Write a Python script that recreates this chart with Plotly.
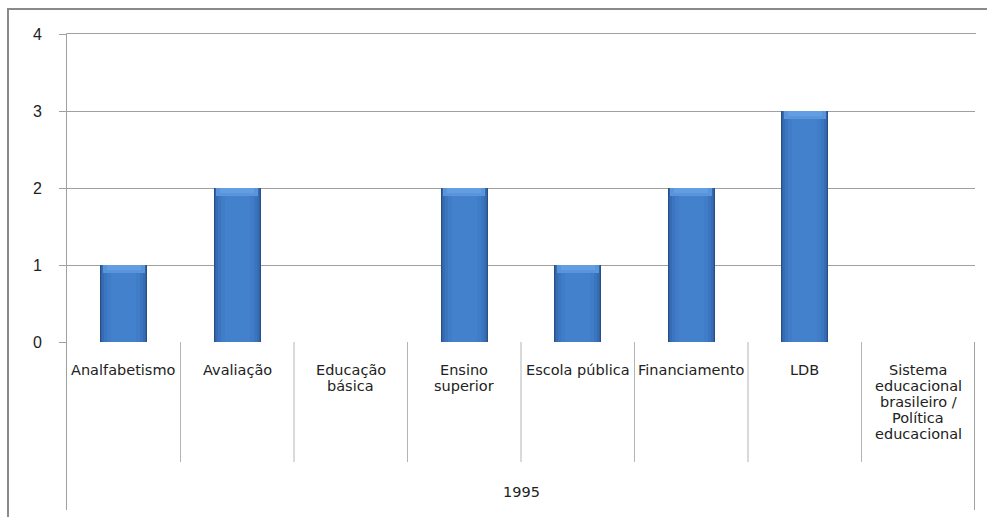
import plotly.graph_objects as go

# Topics recorded in 1995 and how many items fall under each
categories = [
    "Analfabetismo",
    "Avaliação",
    "Educação<br>básica",
    "Ensino<br>superior",
    "Escola pública",
    "Financiamento",
    "LDB",
    "Sistema<br>educacional<br>brasileiro /<br>Política<br>educacional",
]
values = [1, 2, 0, 2, 1, 2, 3, 0]
group_label = "1995"
y_ticks = [0, 1, 2, 3, 4]

n = len(categories)
xs = list(range(n))

W, H = 987, 517
ML, MR, MT, MB = 67, 12, 34, 175
plot_h = H - MT - MB
plot_w = W - ML - MR
y_top = max(y_ticks)


def py(px_below_axis):
    """Paper y for a distance in pixels below the x axis."""
    return -px_below_axis / plot_h


def px(x_px):
    """Paper x for a pixel offset from the left edge of the plot area."""
    return x_px / plot_w


fig = go.Figure()

# Shaded bars: dark rim fading into a brighter core
bar_layers = [
    (0.41, "#284f88"),
    (0.398, "#3162a3"),
    (0.375, "#376cb3"),
    (0.34, "#3c75bf"),
    (0.29, "#407cc7"),
    (0.22, "#4381cc"),
]
for width, color in bar_layers:
    fig.add_trace(go.Bar(
        x=xs, y=values, width=width,
        marker=dict(color=color, line=dict(width=0)),
        hoverinfo="skip", showlegend=False,
    ))

# Light bevel along the top of each bar
for width, color, depth in [(0.37, "#5a95db", 0.1), (0.3, "#639ee2", 0.07)]:
    fig.add_trace(go.Bar(
        x=xs, y=[depth if v > 0 else 0 for v in values],
        base=[v - depth for v in values], width=width,
        marker=dict(color=color, line=dict(width=0)),
        hoverinfo="skip", showlegend=False,
    ))

grid = "#a0a0a0"
fig.update_layout(
    width=W, height=H,
    margin=dict(l=ML, r=MR, t=MT, b=MB),
    paper_bgcolor="white", plot_bgcolor="white",
    barmode="overlay", bargap=0,
    font=dict(family="Liberation Sans, Arial, sans-serif", color="#222"),
    xaxis=dict(
        range=[-0.5, n - 0.5], showticklabels=False, showgrid=False,
        zeroline=False, showline=False, ticks="", fixedrange=True,
    ),
    yaxis=dict(
        range=[0, y_top], tickvals=y_ticks, showgrid=True,
        gridcolor=grid, gridwidth=1, zeroline=False, showline=False,
        ticks="outside", ticklen=7, tickcolor=grid,
        tickfont=dict(size=16, color="#222"),
        ticklabelstandoff=14, fixedrange=True,
    ),
)

sep_color = "#b4b4b4"
shapes = []
# Category separators (inner ones short, outer ones reach the group row);
# the leftmost one also serves as the value axis line
for i in range(n + 1):
    outer = i in (0, n)
    xp = i / n + (px(-0.5) if outer else 0)
    shapes.append(dict(
        type="line", xref="paper", yref="paper",
        x0=xp, x1=xp, y0=1 + 0.5 / plot_h if i == 0 else 0,
        y1=py(168) if outer else py(120),
        line=dict(color=grid if outer else sep_color, width=1),
        layer="above",
    ))

# Top gridline at the last tick, spanning the full plot width
shapes.append(dict(
    type="line", xref="paper", yref="paper",
    x0=px(-0.5), x1=1 + px(1), y0=1 + 0.5 / plot_h, y1=1 + 0.5 / plot_h,
    line=dict(color=grid, width=1), layer="above",
))

# Outer chart frame
shapes.append(dict(
    type="rect", xref="paper", yref="paper",
    x0=px(8 - ML), x1=1.2, y0=1 + (MT - 9) / plot_h, y1=-1,
    line=dict(color="#8a8a8a", width=2), fillcolor="rgba(0,0,0,0)",
    layer="below",
))
fig.update_layout(shapes=shapes)

label_font = dict(family="DejaVu Sans, sans-serif", size=14.5, color="#222")
line_step = 16
annotations = []
for i, cat in enumerate(categories):
    for k, line in enumerate(cat.split("<br>")):
        annotations.append(dict(
            x=i, xref="x", y=py(28 + k * line_step), yref="paper", text=line,
            showarrow=False, xanchor="center", yanchor="middle",
            font=label_font,
        ))
annotations.append(dict(
    x=(n - 1) / 2, xref="x", y=py(150), yref="paper", text=group_label,
    showarrow=False, xanchor="center", yanchor="middle",
    font=label_font,
))
fig.update_layout(annotations=annotations)

fig.write_html("out.html")
